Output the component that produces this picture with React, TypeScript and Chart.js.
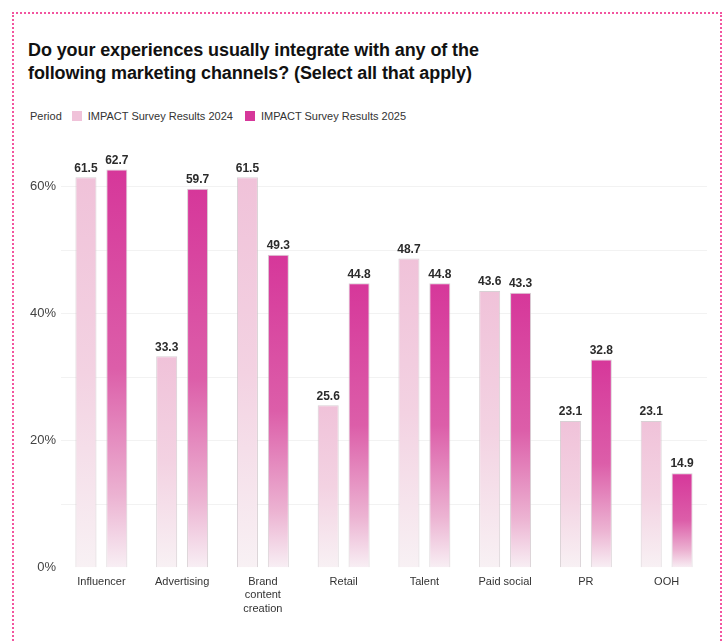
import React, { useEffect, useRef } from "react";
import { Chart, registerables } from "chart.js";

Chart.register(...registerables);

const categories: (string | string[])[] = [
  "Influencer",
  "Advertising",
  ["Brand", "content", "creation"],
  "Retail",
  "Talent",
  "Paid social",
  "PR",
  "OOH",
];
const series2024 = [61.5, 33.3, 61.5, 25.6, 48.7, 43.6, 23.1, 23.1];
const series2025 = [62.7, 59.7, 49.3, 44.8, 44.8, 43.3, 32.8, 14.9];
const seriesNames = ["IMPACT Survey Results 2024", "IMPACT Survey Results 2025"];
const yTickStep = 10;
const yMax = 65;

const FONT = "'Liberation Sans', Arial, sans-serif";

const stops2024: [number, string][] = [
  [0, "#f0c2d9"],
  [0.5, "#f3d2e2"],
  [1, "#f8f1f4"],
];
const stops2025: [number, string][] = [
  [0, "#d6379a"],
  [0.5, "#dc5ea9"],
  [0.82, "#ecb3d2"],
  [1, "#f8eff4"],
];

function gradientFor(stops: [number, string][]) {
  return (ctx: any) => {
    const chart = ctx.chart;
    const area = chart.chartArea;
    if (!area || ctx.type !== "data") return stops[0][1];
    const y = chart.scales.y;
    const top = y.getPixelForValue(ctx.parsed?.y ?? ctx.raw);
    const bottom = y.getPixelForValue(0);
    if (!isFinite(top) || !isFinite(bottom) || top === bottom) return stops[0][1];
    const g = chart.ctx.createLinearGradient(0, top, 0, bottom);
    stops.forEach(([o, c]) => g.addColorStop(o, c));
    return g;
  };
}

const valueLabels = {
  id: "valueLabels",
  afterDatasetsDraw(chart: any) {
    const ctx = chart.ctx;
    ctx.save();
    ctx.font = `bold 12px ${FONT}`;
    ctx.fillStyle = "#2b2b2b";
    ctx.textAlign = "center";
    ctx.textBaseline = "bottom";
    chart.data.datasets.forEach((ds: any, i: number) => {
      const meta = chart.getDatasetMeta(i);
      meta.data.forEach((el: any, j: number) => {
        ctx.fillText(Number(ds.data[j]).toFixed(1), el.x, el.y - 3);
      });
    });
    ctx.restore();
  },
};

export default function App() {
  const ref = useRef<HTMLCanvasElement>(null);
  useEffect(() => {
    if (!ref.current) return;
    const chart = new Chart(ref.current, {
      type: "bar",
      data: {
        labels: categories,
        datasets: [
          {
            label: seriesNames[0],
            data: series2024,
            backgroundColor: gradientFor(stops2024),
            borderColor: "rgba(200,188,194,0.7)",
            borderWidth: 1,
            categoryPercentage: 0.765,
            barPercentage: 0.68,
          },
          {
            label: seriesNames[1],
            data: series2025,
            backgroundColor: gradientFor(stops2025),
            borderColor: "rgba(200,188,194,0.7)",
            borderWidth: 1,
            categoryPercentage: 0.765,
            barPercentage: 0.68,
          },
        ],
      },
      options: {
        animation: false,
        responsive: false,
        maintainAspectRatio: false,
        layout: { padding: { left: 5, right: 8, top: 25, bottom: 7 } },
        plugins: {
          legend: { display: false },
          title: { display: false },
          tooltip: { enabled: false },
        },
        scales: {
          x: {
            grid: { display: false, drawTicks: false },
            border: { display: false },
            ticks: {
              padding: 7,
              color: "#333",
              font: { family: FONT, size: 11, lineHeight: 1.25 },
              maxRotation: 0,
              autoSkip: false,
            },
          },
          y: {
            min: 0,
            max: yMax,
            border: { display: false },
            grid: {
              drawTicks: false,
              color: (c: any) =>
                c.tick && c.tick.value > 0 && c.tick.value % yTickStep === 0
                  ? "rgba(0,0,0,0.05)"
                  : "rgba(0,0,0,0)",
            },
            ticks: {
              stepSize: yTickStep,
              padding: 5,
              color: "#444",
              font: { family: FONT, size: 13 },
              callback: (v: any) => (Number(v) % 20 === 0 ? `${v}%` : ""),
            },
          },
        },
      },
      plugins: [valueLabels],
    });
    return () => chart.destroy();
  }, []);

  return (
    <div
      style={{
        position: "absolute",
        left: 0,
        top: 0,
        width: 724,
        height: 643,
        overflow: "hidden",
        background: "#fff",
        fontFamily: FONT,
      }}
    >
      <div
        style={{
          position: "absolute",
          left: 12,
          top: 12,
          width: 706,
          height: 700,
          border: "2px dotted #f2559f",
        }}
      />
      <div
        style={{
          position: "absolute",
          left: 28,
          top: 39,
          fontSize: 18,
          fontWeight: 700,
          lineHeight: "23px",
          color: "#111",
          letterSpacing: "-0.1px",
        }}
      >
        Do your experiences usually integrate with any of the
        <br />
        following marketing channels? (Select all that apply)
      </div>
      <div
        style={{
          position: "absolute",
          left: 30,
          top: 110,
          display: "flex",
          alignItems: "center",
          fontSize: 11,
          color: "#333",
          whiteSpace: "nowrap",
        }}
      >
        <span style={{ marginRight: 10 }}>Period</span>
        <span style={{ width: 10, height: 10, background: "#f0c2d9", marginRight: 6, display: "inline-block" }} />
        <span style={{ marginRight: 12 }}>{seriesNames[0]}</span>
        <span style={{ width: 10, height: 10, background: "#d6379a", marginRight: 6, display: "inline-block" }} />
        <span>{seriesNames[1]}</span>
      </div>
      <canvas
        ref={ref}
        width={695}
        height={500}
        style={{ position: "absolute", left: 20, top: 130, width: 695, height: 500 }}
      />
    </div>
  );
}
